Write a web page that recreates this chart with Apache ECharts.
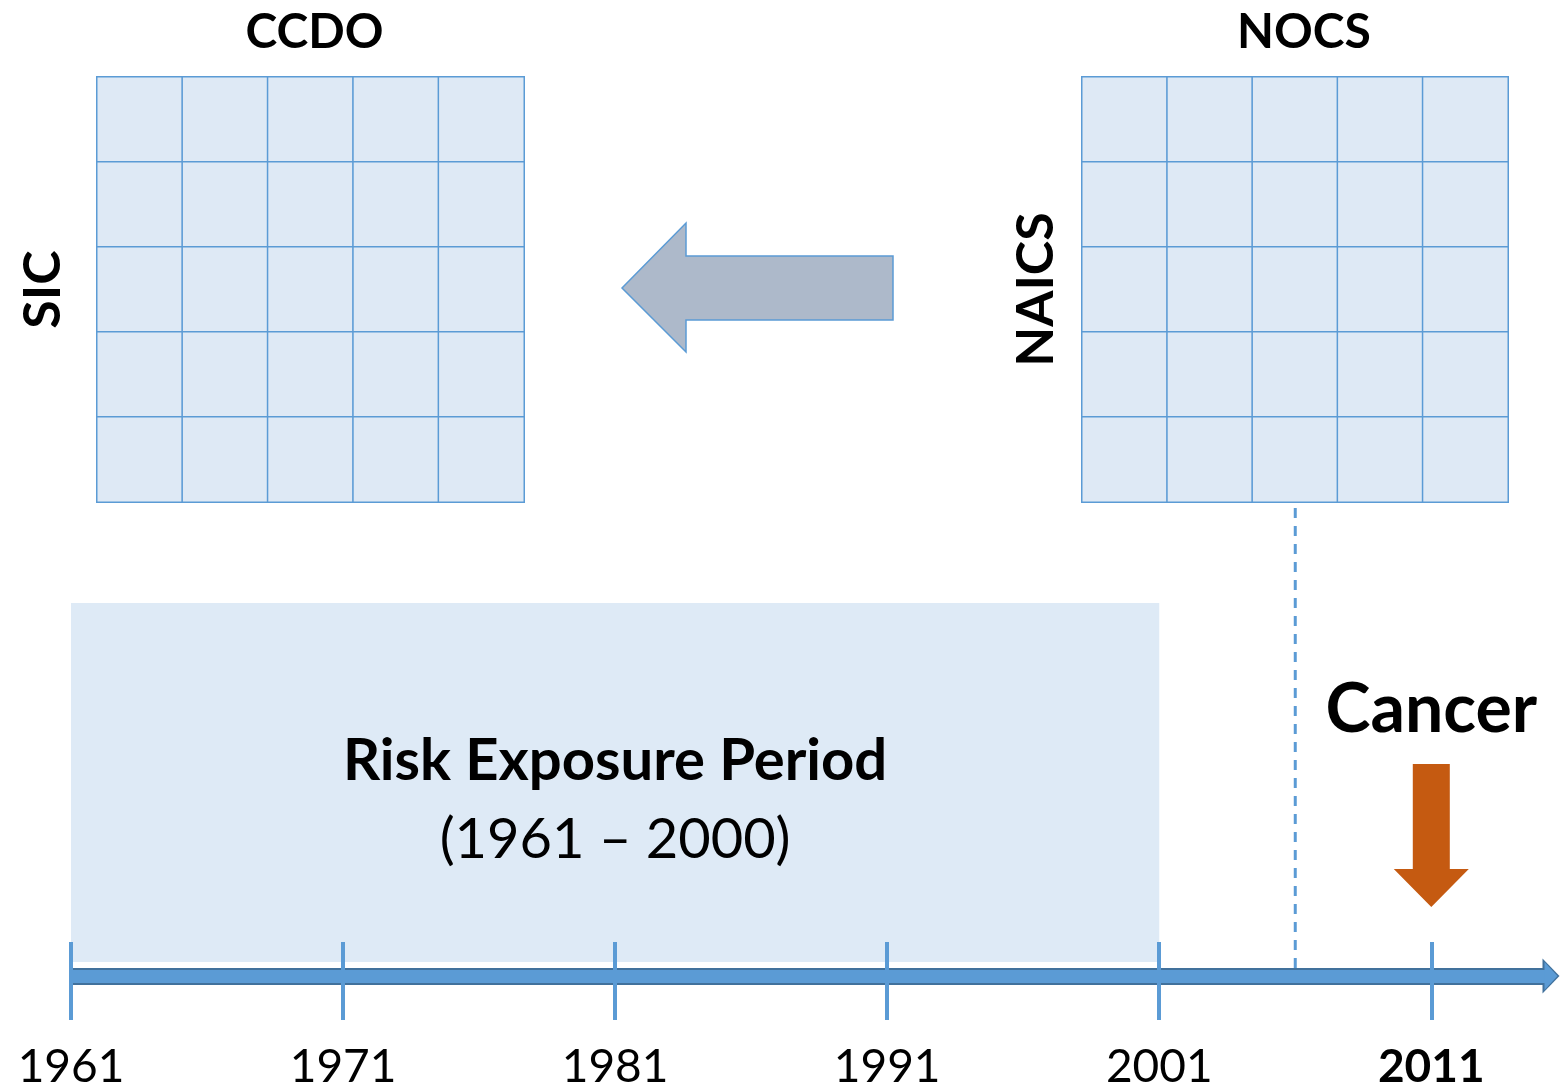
<!DOCTYPE html>
<html>
<head>
<meta charset="utf-8">
<title>Risk exposure timeline</title>
<script src="https://cdn.jsdelivr.net/npm/echarts@6/dist/echarts.min.js"></script>
<style>
  html, body { margin: 0; padding: 0; background: #ffffff; }
  #chart { width: 1560px; height: 1090px; }
</style>
</head>
<body>
<div id="chart"></div>
<script>
// ---- data ----
const matrixCols = ['c1', 'c2', 'c3', 'c4', 'c5'];
const matrixRows = ['r1', 'r2', 'r3', 'r4', 'r5'];
const ccdoMatrix = [
  [1, 1, 1, 1, 1],
  [1, 1, 1, 1, 1],
  [1, 1, 1, 1, 1],
  [1, 1, 1, 1, 1],
  [1, 1, 1, 1, 1]
];
const nocsMatrix = [
  [1, 1, 1, 1, 1],
  [1, 1, 1, 1, 1],
  [1, 1, 1, 1, 1],
  [1, 1, 1, 1, 1],
  [1, 1, 1, 1, 1]
];
const matrixTitles = ['CCDO', 'NOCS'];
const matrixSideTitles = ['SIC', 'NAICS'];

const tickYears = [1961, 1971, 1981, 1991, 2001, 2011];
const boldYear = 2011;
const timelineStart = 1961;
const timelineEnd = 2015.4;
const exposurePeriod = [1961, 2001];
const exposureLabel = 'Risk Exposure Period';
const exposureRange = '(1961 \u2013 2000)';
const dashYear = 2006;
const cancerYear = 2011;
const cancerLabel = 'Cancer';

// diagram heights (units above the timeline, 0 = timeline)
const exposureBox = [14, 373];
const dashExtent = [8, 473];
const cancerArrowY = 140.5;

// ---- helpers ----
function toCells(matrix) {
  const out = [];
  matrix.forEach(function (row, r) {
    row.forEach(function (v, c) { out.push([c, r, v]); });
  });
  return out;
}

const FONT = 'Lato, "Open Sans", "DejaVu Sans", sans-serif';

const chart = echarts.init(document.getElementById('chart'), null, { renderer: 'canvas' });

function matrixXAxis(gridIndex, name, pad) {
  return {
    type: 'category', gridIndex: gridIndex, data: matrixCols, position: 'top',
    name: name, nameLocation: 'middle', nameGap: 20,
    nameTextStyle: { fontFamily: FONT, fontWeight: 'bold', fontSize: 48, color: '#000', padding: pad },
    axisLine: { show: false }, axisTick: { show: false }, axisLabel: { show: false }, splitLine: { show: false }
  };
}
function matrixYAxis(gridIndex, name, gap) {
  return {
    type: 'category', gridIndex: gridIndex, data: matrixRows, inverse: true,
    name: name, nameLocation: 'middle', nameGap: gap,
    nameTextStyle: { fontFamily: FONT, fontWeight: 'bold', fontSize: 52, color: '#000' },
    axisLine: { show: false }, axisTick: { show: false }, axisLabel: { show: false }, splitLine: { show: false }
  };
}

const option = {
  backgroundColor: '#ffffff',
  animation: false,
  grid: [
    { left: 97, top: 77, width: 427, height: 425, outerBoundsMode: 'none', containLabel: false },
    { left: 1082, top: 77, width: 426, height: 425, outerBoundsMode: 'none', containLabel: false },
    { left: 71, right: 9, top: 0, bottom: 114, outerBoundsMode: 'none', containLabel: false }
  ],
  xAxis: [
    matrixXAxis(0, matrixTitles[0], [0, 0, 0, 8]),
    matrixXAxis(1, matrixTitles[1], [0, 0, 0, 18]),
    {
      type: 'value', gridIndex: 2, min: timelineStart, max: timelineEnd, position: 'bottom', z: 5,
      axisLine: { show: true, symbol: ['none', 'triangle'], symbolSize: [35, 17], lineStyle: { color: '#41719c', width: 17, cap: 'butt' } },
      axisTick: { show: true, customValues: tickYears, length: 44, lineStyle: { color: '#5b9bd5', width: 4 } },
      axisLabel: { show: false },
      splitLine: { show: false }
    },
    {
      type: 'value', gridIndex: 2, min: timelineStart, max: timelineEnd, position: 'bottom', offset: 0, z: 6,
      axisLine: { show: true, symbol: ['none', 'triangle'], symbolSize: [28, 13], lineStyle: { color: '#5b9bd5', width: 13, cap: 'butt' } },
      axisTick: { show: true, inside: true, customValues: tickYears, length: 34, lineStyle: { color: '#5b9bd5', width: 4 } },
      axisLabel: {
        show: true, customValues: tickYears, margin: 68,
        fontFamily: FONT, fontSize: 46, color: '#000',
        formatter: function (v) { return v === boldYear ? '{b|' + v + '}' : '{n|' + v + '}'; },
        rich: {
          n: { fontFamily: FONT, fontSize: 46, color: '#000' },
          b: { fontFamily: FONT, fontSize: 46, color: '#000', fontWeight: 'bold' }
        }
      },
      splitLine: { show: false }
    }
  ],
  yAxis: [
    matrixYAxis(0, matrixSideTitles[0], 28),
    matrixYAxis(1, matrixSideTitles[1], 20),
    { type: 'value', gridIndex: 2, min: 0, max: 976, show: false }
  ],
  visualMap: {
    show: false, seriesIndex: [0, 1], min: 0, max: 1,
    inRange: { color: ['#dee9f5', '#dee9f5'] }
  },
  graphic: [
    {
      type: 'polygon', z: 10,
      shape: { points: [[622, 288], [686, 223], [686, 256], [893, 256], [893, 320], [686, 320], [686, 352]] },
      style: { fill: '#adb9ca', stroke: '#5b9bd5', lineWidth: 1.5 }
    }
  ],
  series: [
    {
      name: matrixTitles[0], type: 'heatmap', xAxisIndex: 0, yAxisIndex: 0,
      data: toCells(ccdoMatrix),
      itemStyle: { color: '#dee9f5', borderColor: '#5b9bd5', borderWidth: 1.5 },
      emphasis: { disabled: true }
    },
    {
      name: matrixTitles[1], type: 'heatmap', xAxisIndex: 1, yAxisIndex: 1,
      data: toCells(nocsMatrix),
      itemStyle: { color: '#dee9f5', borderColor: '#5b9bd5', borderWidth: 1.5 },
      emphasis: { disabled: true }
    },
    {
      name: 'exposure', type: 'line', xAxisIndex: 2, yAxisIndex: 2, data: [], z: 1,
      markArea: {
        silent: true,
        itemStyle: { color: '#deeaf6' },
        label: {
          show: true, position: 'inside', offset: [0, 18],
          formatter: '{a|' + exposureLabel + '}\n{b|' + exposureRange + '}',
          rich: {
            a: { fontFamily: FONT, fontWeight: 'bold', fontSize: 58, color: '#000', lineHeight: 78, align: 'center' },
            b: { fontFamily: FONT, fontSize: 56, color: '#000', lineHeight: 78, align: 'center' }
          }
        },
        data: [[
          { xAxis: exposurePeriod[0], yAxis: exposureBox[0] },
          { xAxis: exposurePeriod[1], yAxis: exposureBox[1] }
        ]]
      }
    },
    {
      name: 'dash', type: 'line', xAxisIndex: 2, yAxisIndex: 2, symbol: 'none', z: 3,
      lineStyle: { color: '#5b9bd5', width: 3, type: [10, 8] },
      data: [[dashYear, dashExtent[0]], [dashYear, dashExtent[1]]]
    },
    {
      name: 'cancer', type: 'scatter', xAxisIndex: 2, yAxisIndex: 2, z: 4,
      symbol: 'path://M19,0 L56,0 L56,105 L75,105 L37.5,143 L0,105 L19,105 Z',
      symbolSize: [75, 143],
      itemStyle: { color: '#c55a11', opacity: 1 },
      label: {
        show: true, position: 'top', distance: 20,
        formatter: cancerLabel,
        fontFamily: FONT, fontWeight: 'bold', fontSize: 68, color: '#000'
      },
      data: [[cancerYear, cancerArrowY]]
    }
  ]
};

chart.setOption(option);
</script>
</body>
</html>
